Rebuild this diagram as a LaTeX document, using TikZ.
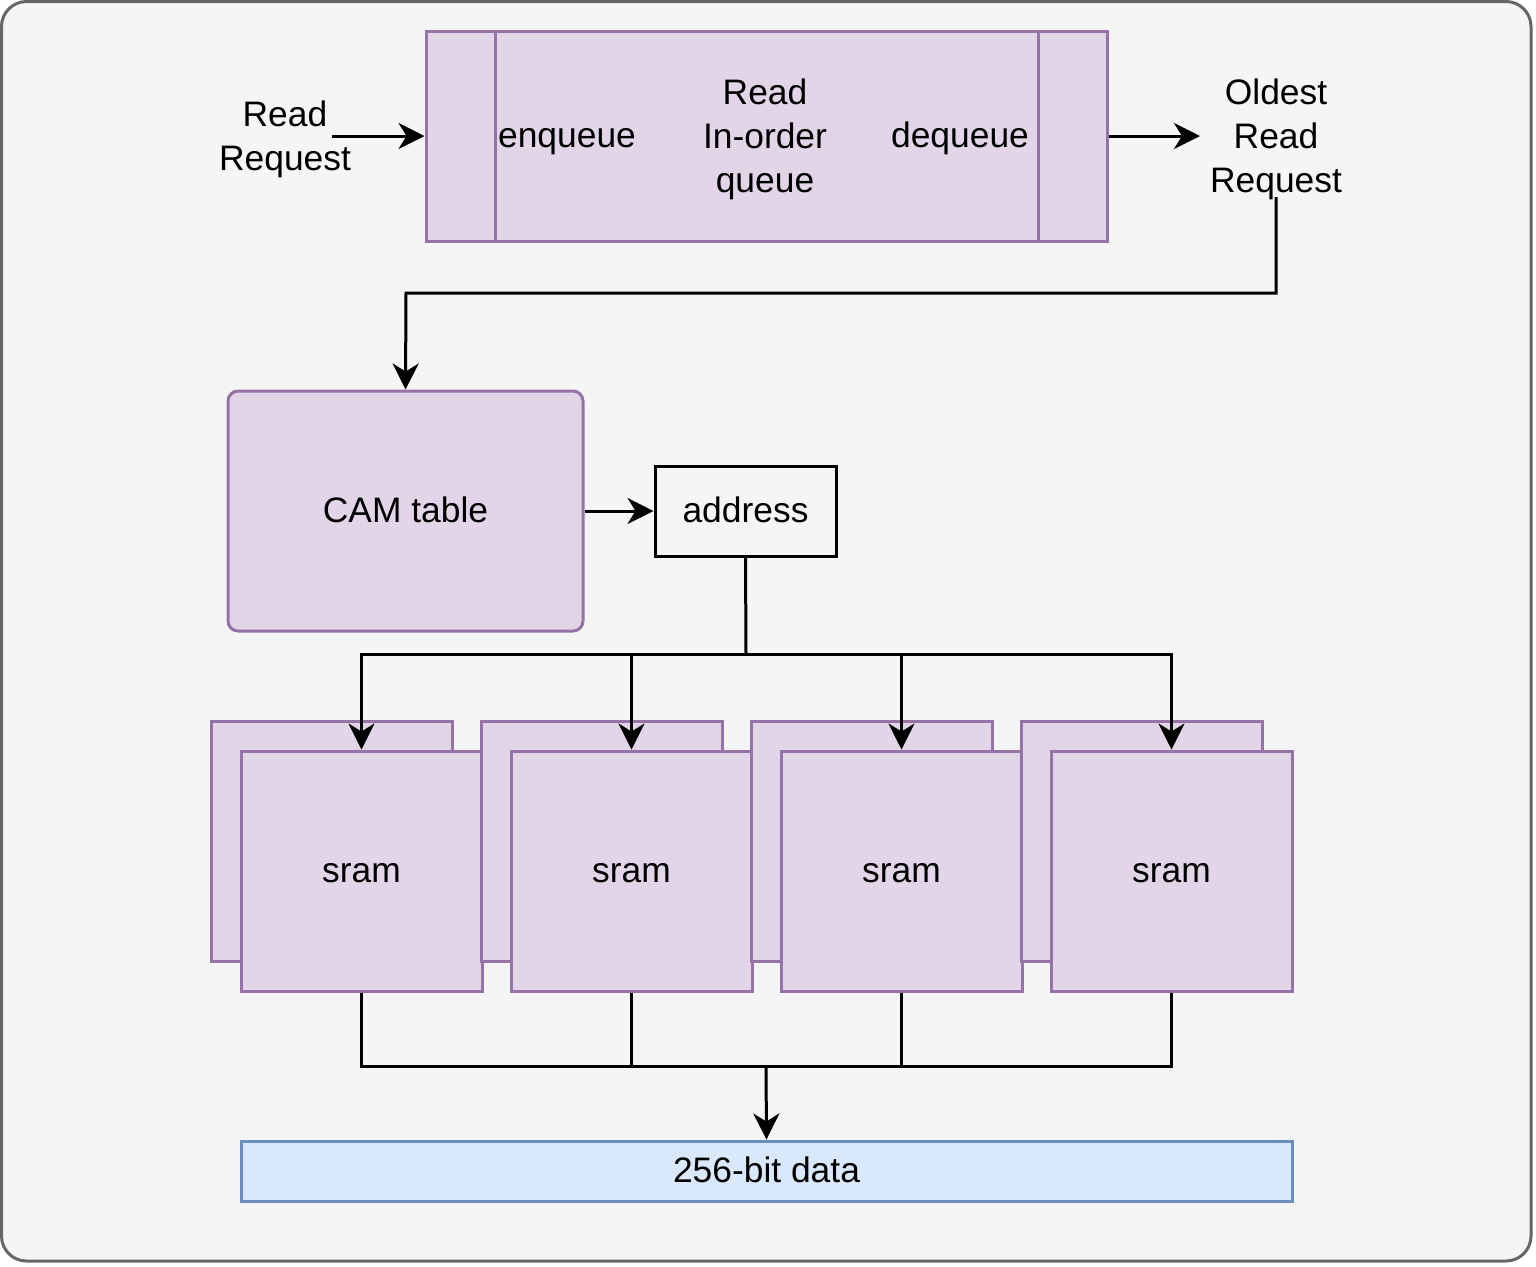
\documentclass[tikz,border=0pt]{standalone}
\usepackage{fontspec}
\setmainfont{Liberation Sans}
\usetikzlibrary{arrows.meta,calc}
\definecolor{pfill}{HTML}{E1D5E7}
\definecolor{pdraw}{HTML}{9673A6}
\definecolor{bfill}{HTML}{DAE8FC}
\definecolor{bdraw}{HTML}{6C8EBF}
\definecolor{bgfill}{HTML}{F5F5F5}
\definecolor{bgdraw}{HTML}{666666}
\begin{document}
\begin{tikzpicture}[x=0.5pt,y=-0.5pt,
  every node/.style={font=\fontsize{17.7}{22}\selectfont, inner sep=0pt, align=center},
  one/.style={text height=13pt, text depth=2pt},
  pbox/.style={draw=pdraw, fill=pfill, line width=1.5pt},
  bbox/.style={draw=bdraw, fill=bfill, line width=1.5pt},
  conn/.style={draw=black, line width=1.5pt},
  arr/.style={conn, -{Stealth[length=13pt,width=13pt,inset=4pt]}},
  lbl/.style={text=black}]
\useasboundingbox (0,0) rectangle (1536,1266);
\draw[fill=bgfill, draw=bgdraw, line width=1.5pt, rounded corners=12.5pt] (1.5,1.5) rectangle (1531,1261);

% queue
\node[pbox, minimum width=340.5pt, minimum height=105pt] (queue) at (766.5,136) {};
\draw[draw=pdraw, line width=1.5pt] (495,31) -- (495,241);
\draw[draw=pdraw, line width=1.5pt] (1038,31) -- (1038,241);
\node[lbl, one] (enq) at (567,136) {enqueue};
\node[lbl] (qname) at (765,139.5) {Read\\In-order\\queue};
\node[lbl, one] (deq) at (960,136) {dequeue};

\node[lbl] (readreq) at (285,139) {Read\\Request};
\node[lbl] (oldest) at (1276,139.5) {Oldest\\Read\\Request};
\coordinate (rin) at (332,136);
\coordinate (oin) at (1200,136);
\coordinate (ostart) at (1276,197);
\coordinate (bend) at (406,293);

\draw[arr] (rin) -- (queue.west);
\draw[arr] (queue.east) -- (oin);

% CAM and address
\node[pbox, one, rounded corners=5pt, minimum width=177.5pt, minimum height=120pt] (cam) at (405.5,511) {CAM table};
\node[one, draw=black, line width=1.5pt, minimum width=90.5pt, minimum height=45pt] (addr) at (745.5,511) {address};
\draw[arr] (ostart) |- (bend) -- (cam.north);
\draw[arr] (cam.east) -- (addr.west);

% srams
\foreach \i/\dx in {1/0,2/270,3/540,4/810}{
  \node[pbox, minimum width=120.5pt, minimum height=120pt] (b\i) at (331.5+\dx,841) {};
  \node[pbox, one, minimum width=120.5pt, minimum height=120pt] (s\i) at (361.5+\dx,871) {sram};
}

\coordinate (j) at (746,654);
\draw[conn] (addr.south) -- (j);
\foreach \i in {1,2,3,4}{
  \draw[arr] (j) -| (s\i.north);
}

% data
\node[bbox, one, minimum width=525.5pt, minimum height=30pt] (data) at (766.5,1171) {256-bit data};
\coordinate (k) at (766,1066);
\foreach \i in {1,2,3,4}{
  \draw[conn] (s\i.south) |- (k);
}
\draw[arr] (k) -- (data.north);
\end{tikzpicture}
\end{document}
